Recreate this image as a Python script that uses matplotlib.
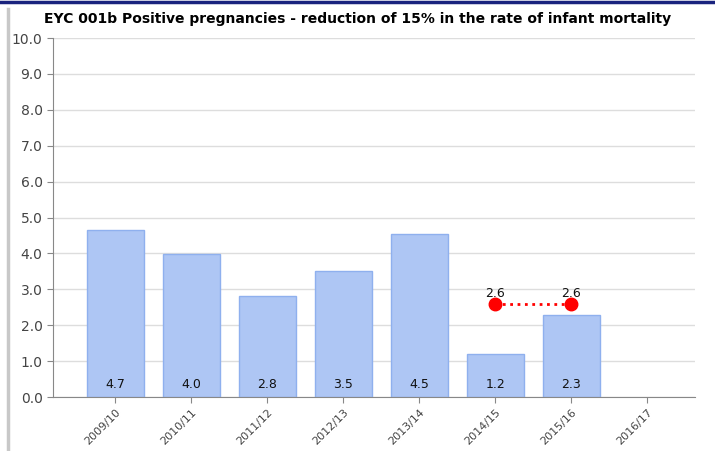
import numpy as np
import matplotlib.pyplot as plt
from matplotlib.lines import Line2D

# data
years = ['2009/10', '2010/11', '2011/12', '2012/13', '2013/14', '2014/15', '2015/16', '2016/17']
rates = [4.65, 3.98, 2.80, 3.50, 4.53, 1.20, 2.29]
target_years = ['2014/15', '2015/16']
target_vals = [2.6, 2.6]

fig = plt.figure(figsize=(7.15, 4.51), dpi=100)
ax = fig.add_axes([0.0741, 0.1197, 0.898, 0.796])

x = np.arange(len(years))
bar_col = '#aec6f4'
ax.bar(x[:len(rates)], rates, width=0.75, color=bar_col, edgecolor='#8fb0ee', linewidth=1, zorder=2)
for xi, v in zip(x, rates):
    ax.text(xi, 0.35, '%.1f' % v, ha='center', va='center', fontsize=9, color='#111111', zorder=3)

# target line
tx = [years.index(t) for t in target_years]
ax.plot(tx, target_vals, color='red', linestyle=':', linewidth=2, marker='o', markersize=9, zorder=4)
for xi, v in zip(tx, target_vals):
    ax.text(xi, v + 0.1, '%.1f' % v, ha='center', va='bottom', fontsize=9, color='#111111', zorder=5)

ax.set_xlim(-0.82, 7.63)
ax.set_ylim(0, 10)
ax.set_yticks(np.arange(0, 10.1, 1))
ax.set_yticklabels(['%.1f' % v for v in np.arange(0, 10.1, 1)], fontsize=10, color='#444444')
ax.set_xticks(x)
ax.set_xticklabels(years, rotation=45, ha='right', rotation_mode='anchor', fontsize=8, color='#444444')
ax.grid(axis='y', color='#dddddd', linewidth=1, zorder=0)
ax.set_axisbelow(True)
for s in ['top', 'right']:
    ax.spines[s].set_visible(False)
for s in ['left', 'bottom']:
    ax.spines[s].set_color('#888888')
ax.tick_params(color='#888888', length=4)

fig.text(0.5, 0.958, 'EYC 001b Positive pregnancies - reduction of 15% in the rate of infant mortality',
         ha='center', va='center', fontsize=10, fontweight='bold')

# page decorations
fig.add_artist(Line2D([0, 1], [0.996, 0.996], color='#1a237e', linewidth=2.5, transform=fig.transFigure))
fig.add_artist(Line2D([0.011, 0.011], [0, 0.98], color='#c8c8c8', linewidth=2.5, transform=fig.transFigure))

fig.savefig('out.png', dpi=100)
